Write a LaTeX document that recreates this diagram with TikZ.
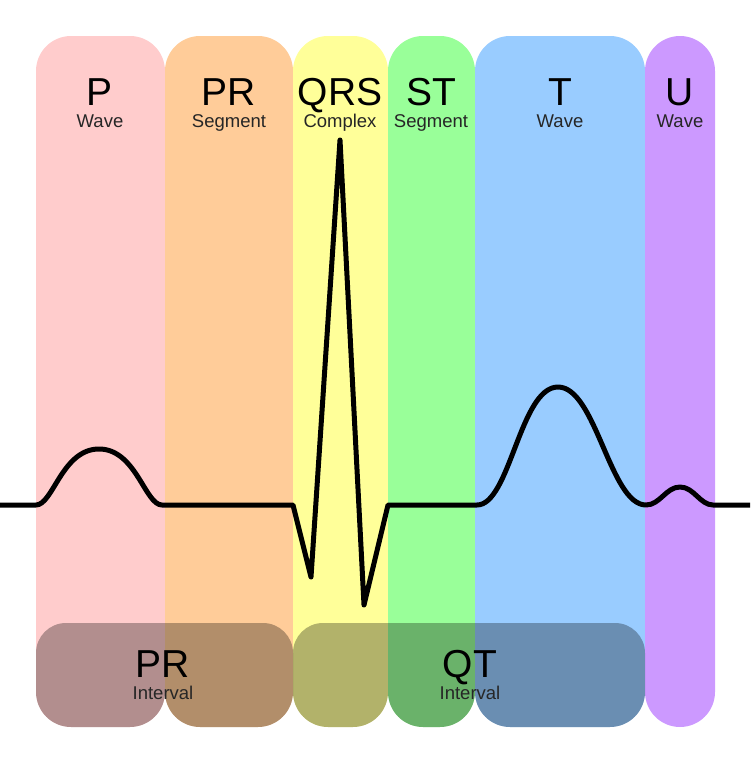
\documentclass[tikz,border=0pt]{standalone}
\usepackage{fontspec}
\setmainfont{Liberation Sans}
\usetikzlibrary{positioning}
\definecolor{pcol}{HTML}{FFCCCC}
\definecolor{prcol}{HTML}{FFCC99}
\definecolor{qrscol}{HTML}{FFFF99}
\definecolor{stcol}{HTML}{99FF99}
\definecolor{tcol}{HTML}{99CCFF}
\definecolor{ucol}{HTML}{CC99FF}
\tikzstyle{band} = [rounded corners=35pt]
\tikzstyle{biglbl} = [anchor=base, inner sep=0pt, text depth=0pt, font=\fontsize{39}{39}\selectfont]
\tikzstyle{sublbl} = [anchor=base, inner sep=0pt, text height=11pt, font=\fontsize{18.5}{19}\selectfont, text=black!85]
\tikzstyle{interval} = [fill=black, fill opacity=0.3, rounded corners=30pt]
\tikzstyle{trace} = [line width=5pt, line join=round]

\begin{document}
\begin{tikzpicture}[x=1pt, y=-1pt]
  \useasboundingbox (0,0) rectangle (750,766);
  % coloured bands
  \fill[band, pcol] (36,36) rectangle (165,727);
  \fill[band, prcol] (165,36) rectangle (293,727);
  \fill[band, qrscol] (293,36) rectangle (388,727);
  \fill[band, stcol] (388,36) rectangle (475,727);
  \fill[band, tcol] (475,36) rectangle (645,727);
  \fill[band, ucol] (645,36) rectangle (715,727);
  % intervals
  \begin{scope}
    \clip[band] (36,36) rectangle (165,727) (165,36) rectangle (293,727)
      (293,36) rectangle (388,727) (388,36) rectangle (475,727)
      (475,36) rectangle (645,727) (645,36) rectangle (715,727);
    \fill[interval] (36,623) rectangle (293,820);
    \fill[interval] (293,623) rectangle (645,820);
  \end{scope}
  % labels
  \node (p)[biglbl] at (100,105) {P};
  \node (pw)[sublbl] at (100,127) {Wave};
  \node (pr)[biglbl] at (229,105) {PR};
  \node (prs)[sublbl] at (229,127) {Segment};
  \node (qrs)[biglbl] at (340,105) {QRS};
  \node (qrsc)[sublbl] at (340,127) {Complex};
  \node (st)[biglbl] at (431,105) {ST};
  \node (sts)[sublbl] at (431,127) {Segment};
  \node (t)[biglbl] at (560,105) {T};
  \node (tw)[sublbl] at (560,127) {Wave};
  \node (u)[biglbl] at (680,105) {U};
  \node (uw)[sublbl] at (680,127) {Wave};
  \node (pri)[biglbl] at (163,677) {PR};
  \node (prii)[sublbl] at (163,699) {Interval};
  \node (qt)[biglbl] at (470,677) {QT};
  \node (qti)[sublbl] at (470,699) {Interval};
  % ecg trace
  \draw[trace] (0,505) -- (36,505)
    .. controls (53,505) and (62,449) .. (99,449)
    .. controls (136,449) and (145,505) .. (162,505)
    -- (293,505) -- (311,577) -- (340,140) -- (364,605) -- (388,505) -- (477,505)
    .. controls (510,505) and (520,387) .. (558,387)
    .. controls (596,387) and (610,505) .. (646,505)
    .. controls (660,505) and (666,487) .. (680,487)
    .. controls (694,487) and (700,505) .. (713,505)
    -- (750,505);
\end{tikzpicture}
\end{document}
